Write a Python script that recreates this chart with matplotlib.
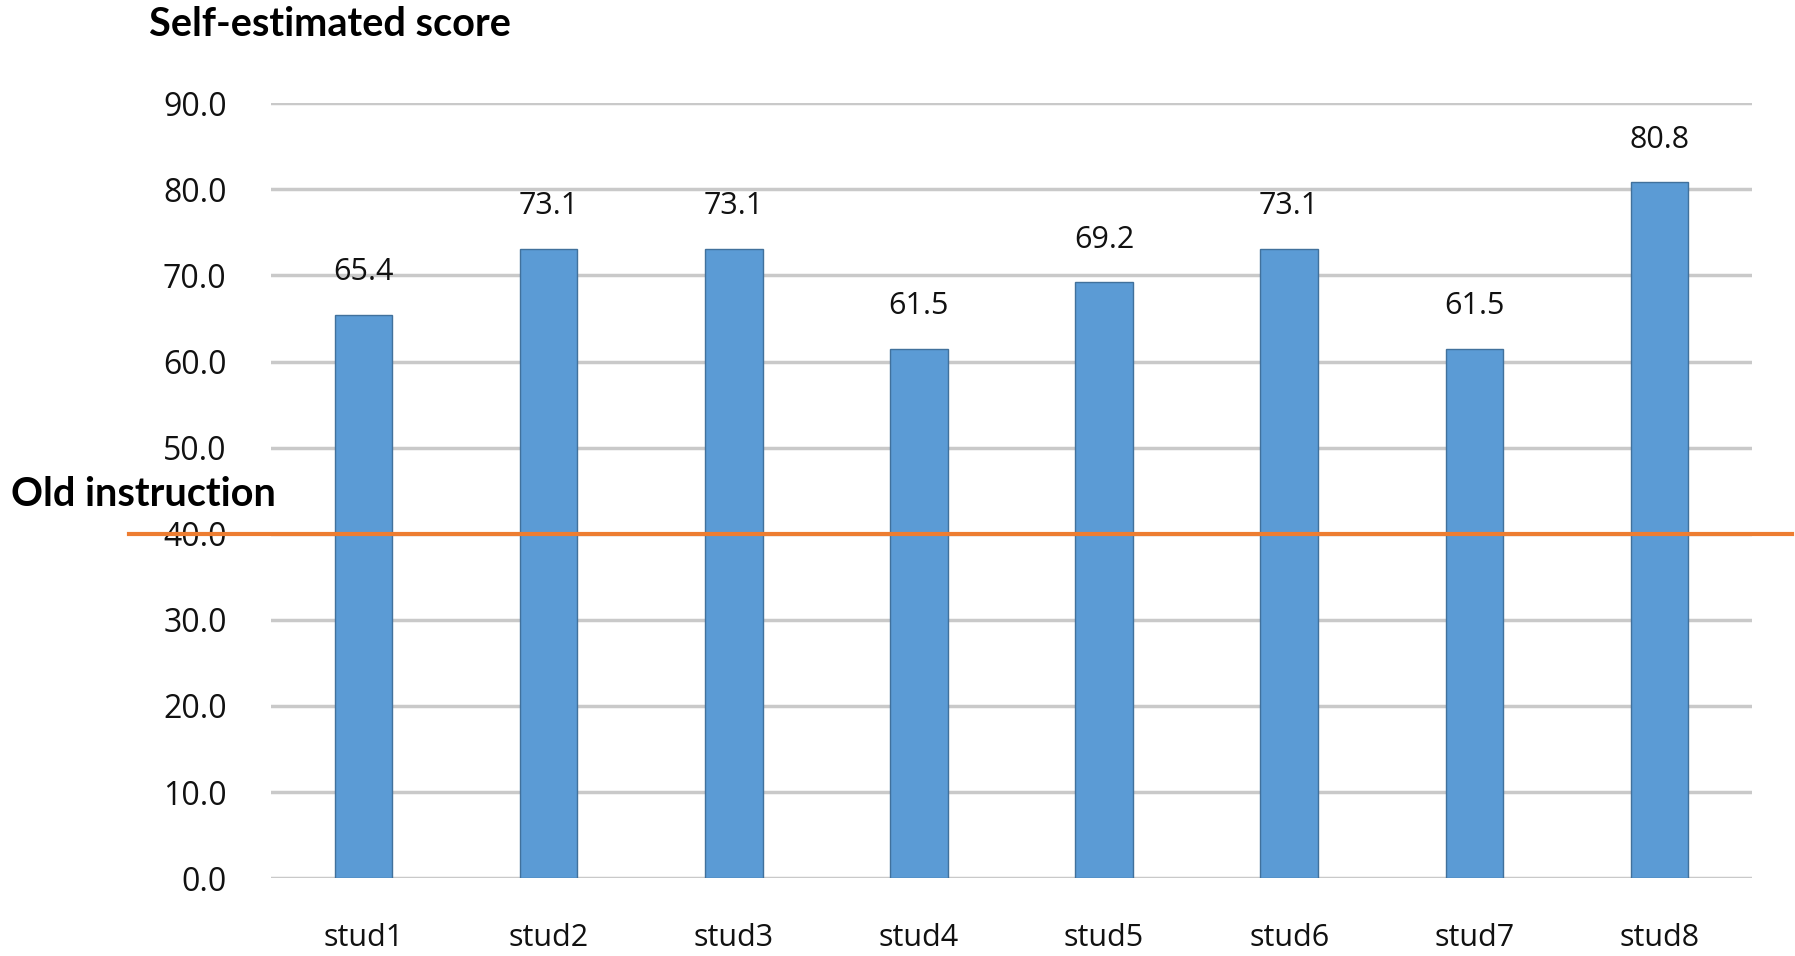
import numpy as np
import matplotlib
matplotlib.use("Agg")
import matplotlib.pyplot as plt

plt.rcParams["font.family"] = ["Open Sans", "DejaVu Sans"]

# data
students = ["stud1", "stud2", "stud3", "stud4", "stud5", "stud6", "stud7", "stud8"]
scores = [65.4, 73.1, 73.1, 61.5, 69.2, 73.1, 61.5, 80.8]
old_level = 40.0
y_ticks = [0, 10, 20, 30, 40, 50, 60, 70, 80, 90]

fig = plt.figure(figsize=(17.95, 9.56), dpi=100)
ax = fig.add_axes([0.151, 0.0814, 0.825, 0.8106])

x = np.arange(len(students))
bars = ax.bar(x, scores, width=0.31, color="#5b9bd5", edgecolor="#41719c",
              linewidth=1.0, zorder=3)

# value labels above bars
for b, v in zip(bars, scores):
    ax.annotate(f"{v:.1f}", (b.get_x() + b.get_width() / 2, v),
                xytext=(0, 20), textcoords="offset points",
                ha="center", va="bottom", fontsize=22, color="#111111")

ax.set_xlim(-0.5, len(students) - 0.5)
ax.set_ylim(0, 90)
ax.set_yticks(y_ticks)
ax.set_yticklabels([f"{t:.1f}" for t in y_ticks])
ax.set_xticks(x)
ax.set_xticklabels(students)
ax.tick_params(axis="y", length=0, pad=32, labelsize=23, labelcolor="#111111")
ax.tick_params(axis="x", length=0, pad=32, labelsize=22, labelcolor="#111111")

ax.grid(axis="y", color="#c9c9c9", linewidth=2.5, zorder=0)
for s in ax.spines.values():
    s.set_visible(False)

# old instruction reference line, runs past the axes on both sides
ax.axhline(old_level, xmin=-0.096, xmax=1.027, color="#ed7d31",
           linewidth=3, clip_on=False, zorder=4)
ax.text(-0.1756, 44.6, "Old instruction", transform=ax.get_yaxis_transform(),
        ha="left", va="center", fontsize=28.5, fontweight="bold",
        family=["Lato", "DejaVu Sans"])

fig.text(0.083, 0.974, "Self-estimated score", ha="left", va="center",
         fontsize=28.5, fontweight="bold", family=["Lato", "DejaVu Sans"])

fig.savefig("out.png", dpi=100)
